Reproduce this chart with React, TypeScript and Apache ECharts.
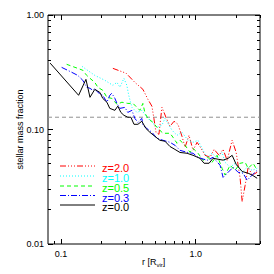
import React, { useEffect, useRef } from "react";
import * as echarts from "echarts";

// ---- data (r [R_vir], stellar mass fraction) ----
const z20: number[][] = [
  [0.2425, 0.342], [0.304, 0.31], [0.353, 0.258], [0.405, 0.2245], [0.442, 0.183],
  [0.473, 0.1595], [0.489, 0.125], [0.507, 0.0945], [0.533, 0.0908], [0.561, 0.156],
  [0.601, 0.128], [0.644, 0.1066], [0.69, 0.118], [0.738, 0.111], [0.791, 0.087],
  [0.833, 0.0699], [0.891, 0.089], [0.955, 0.0658], [1.023, 0.0773], [1.095, 0.0685],
  [1.173, 0.0595], [1.278, 0.0572], [1.368, 0.0671], [1.491, 0.0595], [1.596, 0.0671],
  [1.71, 0.0538], [1.863, 0.0805], [1.995, 0.0632], [2.136, 0.0375], [2.211, 0.0235],
  [2.327, 0.0326], [2.45, 0.0468], [2.624, 0.04], [2.858, 0.0423],
];
const z10: number[][] = [
  [0.143, 0.356], [0.178, 0.297], [0.2115, 0.269], [0.2425, 0.243], [0.26, 0.258],
  [0.2735, 0.234], [0.293, 0.28], [0.308, 0.243], [0.318, 0.199], [0.336, 0.156],
  [0.366, 0.141], [0.398, 0.147], [0.434, 0.128], [0.473, 0.1155], [0.515, 0.1045],
  [0.561, 0.109], [0.591, 0.125], [0.667, 0.0984], [0.726, 0.089], [0.791, 0.0945],
  [0.876, 0.0805], [0.955, 0.0773], [1.04, 0.0805], [1.133, 0.0658], [1.214, 0.0572],
  [1.322, 0.0619], [1.44, 0.056], [1.569, 0.0632], [1.652, 0.0517], [1.8, 0.0468],
  [1.96, 0.0507], [2.211, 0.0423], [2.408, 0.0468], [2.624, 0.044], [2.858, 0.0458],
];
const z05: number[][] = [
  [0.11, 0.371], [0.133, 0.342], [0.145, 0.329], [0.155, 0.297], [0.164, 0.28],
  [0.178, 0.258], [0.1875, 0.234], [0.204, 0.22], [0.219, 0.191], [0.238, 0.187],
  [0.26, 0.166], [0.283, 0.173], [0.313, 0.169], [0.342, 0.169], [0.366, 0.156],
  [0.385, 0.147], [0.405, 0.169], [0.42, 0.1385], [0.442, 0.125], [0.481, 0.1155],
  [0.515, 0.1045], [0.542, 0.0984], [0.571, 0.0927], [0.644, 0.0927], [0.678, 0.0855],
  [0.726, 0.0758], [0.764, 0.0805], [0.833, 0.0728], [0.907, 0.0632], [0.955, 0.0685],
  [1.04, 0.062], [1.133, 0.0538], [1.235, 0.0572], [1.322, 0.0517], [1.44, 0.0595],
  [1.569, 0.0458], [1.652, 0.04], [1.8, 0.0487], [1.96, 0.044], [2.136, 0.0507],
  [2.327, 0.0517], [2.45, 0.0458], [2.669, 0.0507], [2.858, 0.044],
];
const z03: number[][] = [
  [0.101, 0.349], [0.12, 0.316], [0.133, 0.297], [0.145, 0.269], [0.155, 0.234],
  [0.164, 0.229], [0.172, 0.22], [0.178, 0.229], [0.1875, 0.211], [0.204, 0.199],
  [0.219, 0.173], [0.23, 0.199], [0.238, 0.207], [0.251, 0.187], [0.26, 0.169],
  [0.2735, 0.153], [0.298, 0.156], [0.313, 0.141], [0.336, 0.147], [0.353, 0.125],
  [0.372, 0.1155], [0.398, 0.125], [0.405, 0.109], [0.434, 0.102], [0.473, 0.0945],
  [0.515, 0.0838], [0.571, 0.0805], [0.644, 0.0773], [0.701, 0.0728], [0.764, 0.0658],
  [0.862, 0.0632], [0.955, 0.062], [1.04, 0.0572], [1.214, 0.0538], [1.345, 0.0572],
  [1.516, 0.0487], [1.596, 0.0382], [1.74, 0.0423], [1.895, 0.0468], [2.064, 0.0423],
  [2.249, 0.0415], [2.408, 0.036], [2.624, 0.04], [2.858, 0.044],
];
const z00: number[][] = [
  [0.083, 0.38], [0.135, 0.199], [0.153, 0.274], [0.164, 0.191], [0.178, 0.224],
  [0.194, 0.211], [0.204, 0.187], [0.219, 0.173], [0.23, 0.153], [0.251, 0.147],
  [0.264, 0.16], [0.278, 0.141], [0.293, 0.133], [0.313, 0.128], [0.33, 0.128],
  [0.348, 0.111], [0.372, 0.111], [0.398, 0.118], [0.427, 0.102], [0.457, 0.0945],
  [0.498, 0.087], [0.542, 0.0805], [0.591, 0.079], [0.644, 0.071], [0.701, 0.067],
  [0.764, 0.063], [0.862, 0.062], [0.955, 0.0595], [1.076, 0.056], [1.153, 0.0507],
  [1.256, 0.0507], [1.345, 0.056], [1.465, 0.055], [1.596, 0.054], [1.74, 0.056],
  [1.863, 0.0595], [1.995, 0.0497], [2.211, 0.043], [2.45, 0.0415], [2.624, 0.04],
  [2.858, 0.0375],
];
const refLevel = 0.128;

const seriesNames = ["z=2.0", "z=1.0", "z=0.5", "z=0.3", "z=0.0"];
const seriesColors = ["#ff0000", "#00ffff", "#00ff00", "#0000ff", "#000000"];
const seriesDashes: (number[] | null)[] = [
  [6, 2, 1, 2, 1, 2, 1, 2],
  [1, 2],
  [4, 3],
  [6, 2, 1, 2],
  null,
];
const seriesData = [z20, z10, z05, z03, z00];

const X_MIN = 0.08;
const X_MAX = 3;
const Y_MIN = 0.01;
const Y_MAX = 1;
const xMajor = [0.1, 1];
const xMajorLabels = ["0.1", "1.0"];
const xMinor = [0.09, 0.2, 0.3, 0.4, 0.5, 0.6, 0.7, 0.8, 0.9, 2, 3];
const yMajor = [0.01, 0.1, 1];
const yMajorLabels = ["0.01", "0.10", "1.00"];
const yMinor = [0.02, 0.03, 0.04, 0.05, 0.06, 0.07, 0.08, 0.09, 0.2, 0.3, 0.4, 0.5, 0.6, 0.7, 0.8, 0.9];

const FONT = "Liberation Sans";

function labelFor(v: number, majors: number[], labels: string[]) {
  for (let i = 0; i < majors.length; i++) {
    if (Math.abs(Math.log10(v) - Math.log10(majors[i])) < 1e-6) return labels[i];
  }
  return "";
}

const crisp = (v: number) => Math.round(v - 0.5) + 0.5;

function xTickRender(_p: any, api: any) {
  const v = api.value(0);
  const len = api.value(2);
  const b = api.coord([v, Y_MIN]);
  const t = api.coord([v, Y_MAX]);
  const x = crisp(b[0]);
  return {
    type: "group",
    children: [
      { type: "line", shape: { x1: x, y1: b[1], x2: x, y2: b[1] - len }, style: { stroke: "#000", lineWidth: 1 } },
      { type: "line", shape: { x1: x, y1: t[1], x2: x, y2: t[1] + len }, style: { stroke: "#000", lineWidth: 1 } },
    ],
  };
}

function yTickRender(_p: any, api: any) {
  const v = api.value(1);
  const len = api.value(2);
  const l = api.coord([X_MIN, v]);
  const r = api.coord([X_MAX, v]);
  const y = crisp(l[1]);
  return {
    type: "group",
    children: [
      { type: "line", shape: { x1: l[0], y1: y, x2: l[0] + len, y2: y }, style: { stroke: "#000", lineWidth: 1 } },
      { type: "line", shape: { x1: r[0], y1: y, x2: r[0] - len, y2: y }, style: { stroke: "#000", lineWidth: 1 } },
    ],
  };
}

export default function App() {
  const ref = useRef<HTMLDivElement>(null);
  useEffect(() => {
    const chart = echarts.init(ref.current!, null, { renderer: "svg" });
    const xTicks = [
      ...xMajor.map((v) => [v, 0.1, 5]),
      ...xMinor.map((v) => [v, 0.1, 3]),
    ];
    const yTicks = [
      ...yMajor.map((v) => [0.5, v, 5]),
      ...yMinor.map((v) => [0.5, v, 3]),
    ];
    const legendY = [166, 176, 186, 195.5, 205];
    const legendGraphics: any[] = [];
    seriesNames.forEach((n, i) => {
      legendGraphics.push({
        type: "line",
        shape: { x1: 60, y1: legendY[i], x2: 95, y2: legendY[i] },
        style: { stroke: seriesColors[i], lineWidth: 1, lineDash: seriesDashes[i] || undefined },
      });
      legendGraphics.push({
        type: "text",
        x: 102,
        y: legendY[i] + 2,
        style: {
          text: n, fill: seriesColors[i], fontSize: 11, lineHeight: 9, fontFamily: FONT,
          align: "left", verticalAlign: "middle",
        },
      });
    });

    const option: any = {
      animation: false,
      backgroundColor: "#ffffff",
      grid: {
        left: 48, top: 15, width: 212, height: 229,
        show: true, borderColor: "#000", borderWidth: 1, backgroundColor: "transparent",
      },
      xAxis: {
        type: "log", logBase: 10, min: X_MIN, max: X_MAX,
        axisLine: { show: false }, axisTick: { show: false }, splitLine: { show: false },
        axisLabel: {
          margin: 5, fontSize: 9, fontFamily: FONT, color: "#000",
          formatter: (v: number) => labelFor(v, xMajor, xMajorLabels),
        },
      },
      yAxis: {
        type: "log", logBase: 10, min: Y_MIN, max: Y_MAX,
        axisLine: { show: false }, axisTick: { show: false }, splitLine: { show: false },
        axisLabel: {
          margin: 4, fontSize: 9, fontFamily: FONT, color: "#000",
          padding: [5, 0, 0, 0],
          formatter: (v: number) => labelFor(v, yMajor, yMajorLabels),
        },
      },
      graphic: [
        {
          type: "text", x: 20, y: 129.5, rotation: Math.PI / 2,
          style: { text: "stellar mass fraction", fontSize: 9, fontFamily: FONT, fill: "#000", align: "center", verticalAlign: "middle" },
        },
        {
          type: "text", x: 153.7, y: 262,
          style: {
            text: "{a|r [R}{b|vir}{a|]}", fill: "#000", align: "center", verticalAlign: "middle",
            rich: {
              a: { fontSize: 9, fontFamily: FONT, fill: "#000", lineHeight: 12 },
              b: { fontSize: 6, fontFamily: FONT, fill: "#000", lineHeight: 12, padding: [5, 0, 0, 0] },
            },
          },
        },
        ...legendGraphics,
      ],
      series: [
        {
          type: "line", name: "ref", silent: true, showSymbol: false, symbol: "none",
          data: [[X_MIN, refLevel], [X_MAX, refLevel]],
          lineStyle: { color: "#909090", width: 1, type: [4, 3] },
        },
        ...seriesNames.map((n, i) => ({
          type: "line", name: n, showSymbol: false, symbol: "none",
          data: seriesData[i],
          lineStyle: { color: seriesColors[i], width: 1, type: seriesDashes[i] || "solid" },
        })),
        { type: "custom", name: "xticks", silent: true, data: xTicks, encode: { x: 0, y: 1 }, renderItem: xTickRender, clip: false },
        { type: "custom", name: "yticks", silent: true, data: yTicks, encode: { x: 0, y: 1 }, renderItem: yTickRender, clip: false },
      ],
    };
    chart.setOption(option);
    return () => chart.dispose();
  }, []);
  return <div ref={ref} style={{ position: "fixed", left: 0, top: 0, width: 274, height: 274 }} />;
}
